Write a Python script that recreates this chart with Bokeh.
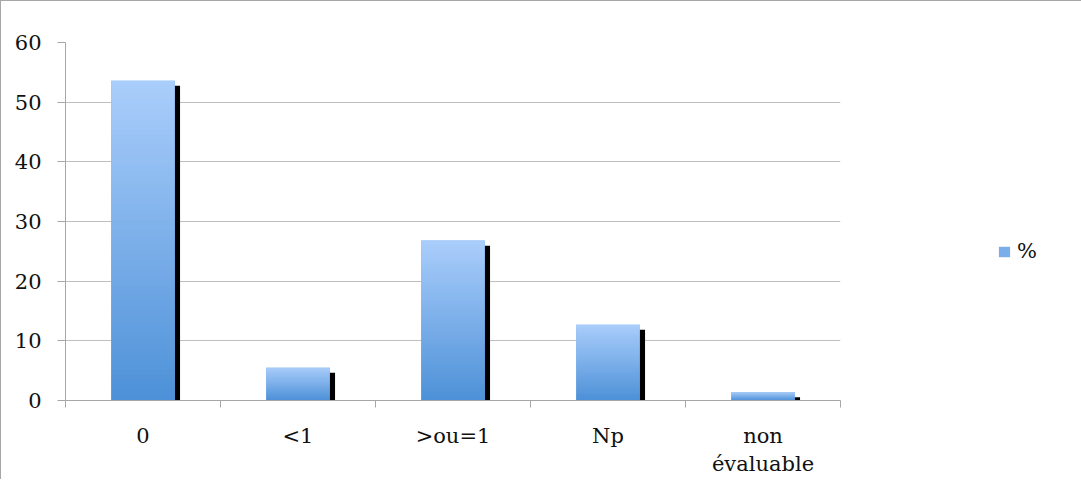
import numpy as np
from bokeh.plotting import figure
from bokeh.models import FixedTicker, Range1d, Legend, LegendItem
from bokeh.embed import file_html
from bokeh.resources import INLINE

# ---- data ----
categories = ["0", "<1", ">ou=1", "Np", "non\névaluable"]
values = [53.6, 5.5, 26.8, 12.7, 1.4]
series_name = "%"
y_ticks = [0, 10, 20, 30, 40, 50, 60]

# ---- style ----
FONT = "DejaVu Serif"
TEXT = "#111111"
GRID = "#bfbfbf"
AXIS = "#a6a6a6"
TOP_C = (170, 206, 251)
BOT_C = (78, 145, 216)
BAR_W = 0.41
SH_DX = 0.034
SH_DY = 0.85

n = len(categories)
xc = [i + 0.5 for i in range(n)]

p = figure(frame_width=775, frame_height=358, output_backend="svg", toolbar_location=None,
           x_range=Range1d(0, n), y_range=Range1d(0, 60),
           min_border_left=64, min_border_right=0, min_border_top=41,
           min_border_bottom=78)
p.outline_line_color = None
p.background_fill_color = "white"
p.border_fill_color = "white"
p.styles = {"border-top": "1px solid #a6a6a6", "border-left": "1px solid #a6a6a6"}

# shadow bars
p.vbar(x=[c + SH_DX for c in xc], width=BAR_W, bottom=0,
       top=[v - SH_DY for v in values], fill_color="black", line_color=None)

# main bars (solid base, used for legend)
mid = "#7aaeea"
main = p.vbar(x=xc, width=BAR_W, bottom=0, top=values, fill_color=mid, line_color=None)

# gradient overlay
N = 64
t = np.linspace(0, 1, N)
rgba = np.zeros((N, 1, 4), dtype=np.uint8)
for k in range(3):
    rgba[:, 0, k] = np.round(BOT_C[k] + (TOP_C[k] - BOT_C[k]) * t).astype(np.uint8)
rgba[:, 0, 3] = 255
img = rgba.view(np.uint32).reshape(N, 1)
p.image_rgba(image=[img] * n, x=[c - BAR_W / 2 for c in xc], y=[0] * n,
             dw=[BAR_W] * n, dh=values)

# axes
p.xgrid.visible = False
p.ygrid.grid_line_color = GRID
p.ygrid.ticker = FixedTicker(ticks=y_ticks)

p.yaxis.ticker = FixedTicker(ticks=y_ticks)
p.yaxis.axis_line_color = AXIS
p.yaxis.major_tick_line_color = AXIS
p.yaxis.major_tick_out = 8
p.yaxis.major_tick_in = 0
p.yaxis.minor_tick_line_color = None
p.yaxis.major_label_text_font = FONT
p.yaxis.major_label_text_font_size = "21px"
p.yaxis.major_label_text_color = TEXT
p.yaxis.major_label_standoff = 16

p.xaxis.ticker = FixedTicker(ticks=xc, minor_ticks=list(range(n + 1)))
p.xaxis.major_label_overrides = {c: lab for c, lab in zip(xc, categories)}
p.xaxis.axis_line_color = AXIS
p.xaxis.major_tick_line_color = None
p.xaxis.minor_tick_line_color = AXIS
p.xaxis.minor_tick_out = 7
p.xaxis.minor_tick_in = 0
p.xaxis.major_label_text_font = FONT
p.xaxis.major_label_text_font_size = "21px"
p.xaxis.major_label_text_color = TEXT
p.xaxis.major_label_standoff = 16

legend = Legend(items=[LegendItem(label=series_name, renderers=[main])],
                location=(157, 137), orientation="vertical",
                border_line_color=None, background_fill_alpha=0,
                label_text_font=FONT, label_text_font_size="21px",
                label_text_color=TEXT, glyph_width=14, glyph_height=13,
                label_standoff=6, padding=2, margin=0, spacing=0)
p.add_layout(legend, "right")

open("out.html", "w").write(file_html(p, INLINE))
